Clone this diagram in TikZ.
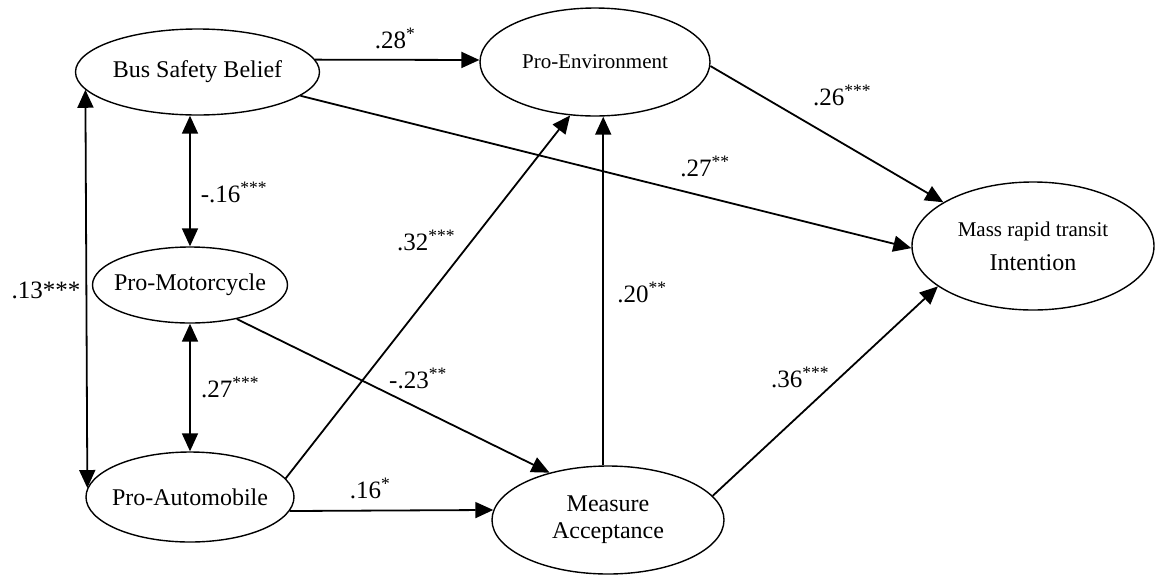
\documentclass[tikz,border=0pt]{standalone}
\usepackage{fontspec}
\setmainfont{Liberation Serif}
\usetikzlibrary{arrows.meta,shapes.geometric}
\newcommand{\zb}[1]{\makebox[0pt]{#1}}
\begin{document}
\begin{tikzpicture}[x=1pt,y=-1pt,
  latent/.style={draw, line width=1.4pt, ellipse, inner sep=0pt, align=center,
    font=\fontsize{24}{27}\selectfont},
  arr/.style={line width=1.8pt, -{Triangle[length=18pt,width=16pt]}},
  darr/.style={line width=1.8pt, {Triangle[length=18pt,width=16pt]}-{Triangle[length=18pt,width=16pt]}},
  coef/.style={font=\fontsize{25}{28}\selectfont, inner sep=0pt}]
\useasboundingbox (0,0) rectangle (1156,574);
\fill[white] (0,0) rectangle (1156,574);
% nodes
\node[latent, minimum width=244pt, minimum height=86pt] (bus) at (197.5,72) {\zb{Bus Safety Belief}};
\node[latent, minimum width=195pt, minimum height=76pt] (pmot) at (190,285) {\zb{Pro-Motorcycle}};
\node[latent, minimum width=208pt, minimum height=90pt] (pauto) at (190,497) {\zb{Pro-Automobile}};
\node[latent, minimum width=230pt, minimum height=108pt, font=\fontsize{21}{24}\selectfont] (penv) at (595,62) {\zb{Pro-Environment}};
\node[latent, minimum width=232pt, minimum height=108pt] (ma) at (608,520) {\zb{Measure}\\\zb{Acceptance}};
\node[latent, minimum width=242pt, minimum height=128pt, font=\fontsize{24}{34}\selectfont] (mrt) at (1033,246)
  {{\fontsize{21}{24}\selectfont\zb{Mass rapid transit}}\\\zb{Intention}};
% connectors
\draw[arr] (bus.6) -- (penv.179);
\draw[arr] (bus.-13) -- (mrt.181);
\draw[darr] (bus.south -| pmot.north) -- (pmot.north);
\draw[darr] (pmot.south) -- (pauto.north);
\draw[darr] (bus.189.8) -- (pauto.175.07);
\draw[arr] (pauto.11.7) -- (penv.245.6);
\draw[arr] (pmot.-36.9) -- (ma.141.6);
\draw[arr] (pauto.-8.07) -- (ma.175.5);
\draw[arr] (ma.95) -- (ma.95 |- penv.south);
\draw[arr] (penv.-2) -- (mrt.154.4);
\draw[arr] (ma.13.7) -- (mrt.203);
% coefficients
\node[coef] (c1) at (395,38) {.28\textsuperscript{*}};
\node[coef] (c2) at (234,192) {-.16\textsuperscript{***}};
\node[coef] (c3) at (426,240) {.32\textsuperscript{***}};
\node[coef] (c4) at (46,290) {.13***};
\node[coef] (c5) at (230,387) {.27\textsuperscript{***}};
\node[coef] (c6) at (418,378) {-.23\textsuperscript{**}};
\node[coef] (c7) at (370,488) {.16\textsuperscript{*}};
\node[coef] (c8) at (842,95) {.26\textsuperscript{***}};
\node[coef] (c9) at (705,166) {.27\textsuperscript{**}};
\node[coef] (c10) at (642,292) {.20\textsuperscript{**}};
\node[coef] (c11) at (800,377) {.36\textsuperscript{***}};
\end{tikzpicture}
\end{document}
